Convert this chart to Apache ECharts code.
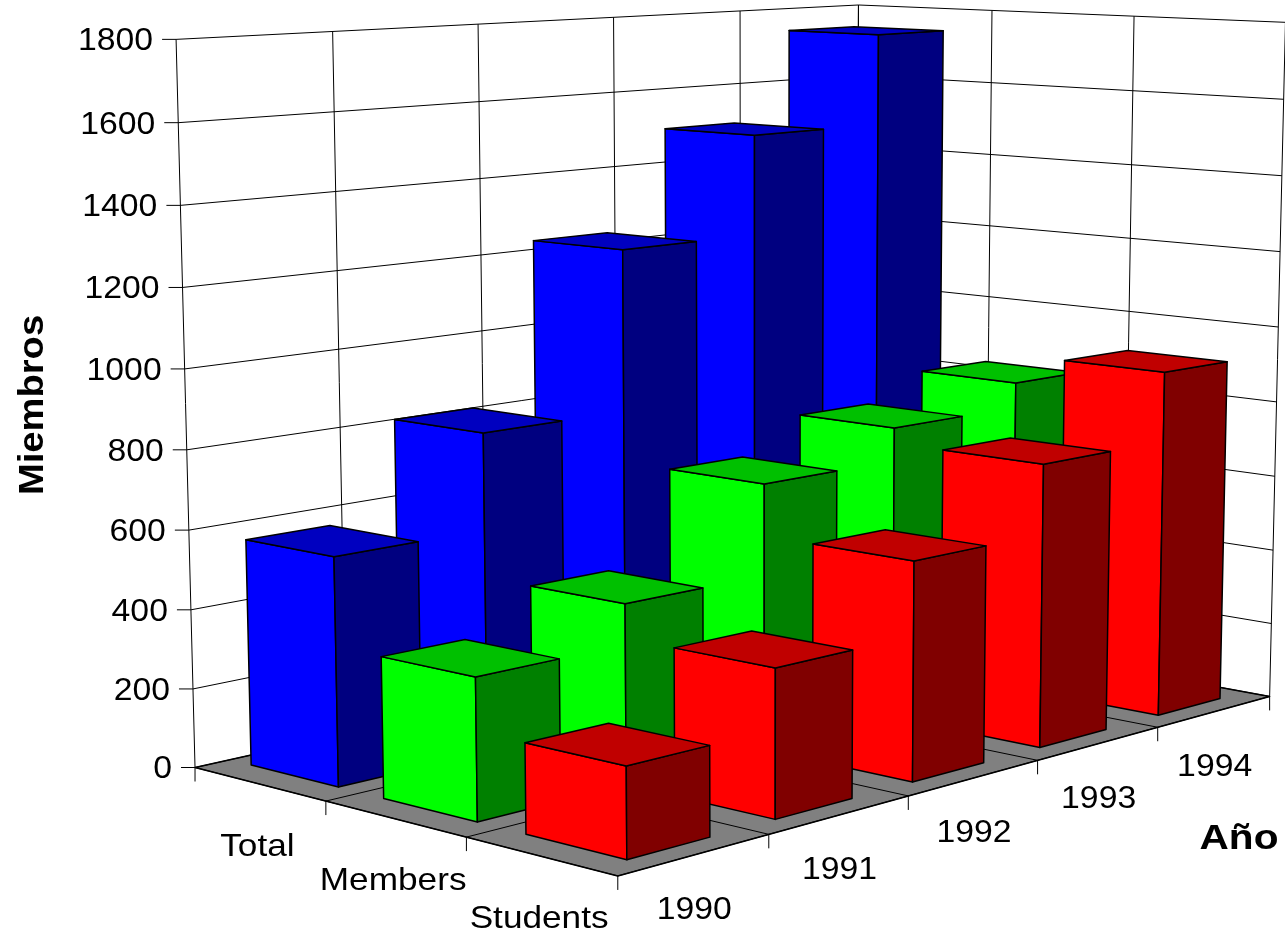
<!DOCTYPE html>
<html><head><meta charset="utf-8">
<style>html,body{margin:0;padding:0;background:#fff}#c{width:1285px;height:936px}</style>
<script src="https://cdn.jsdelivr.net/npm/echarts@6/dist/echarts.min.js"></script>
</head><body><div id="c"></div>
<script>
const years = ['1990','1991','1992','1993','1994'];
const categories = ['Total','Members','Students'];
const zTicks = [0,200,400,600,800,1000,1200,1400,1600,1800];
const totalValues = [571,816,1235,1500,1745];
const membersValues = [349,450,683,769,835];
const studentsValues = [218,365,551,729,911];
const seriesValues = [totalValues, membersValues, studentsValues];
const faceColors = [['#0000FF','#000080','#0000C0'],['#00FF00','#008000','#00C000'],['#FF0000','#800000','#C00000']];
// camera calibration [s, y, z, px, py]
const calib = [
[0,0,0,195,767.7],[1,0,0,326,801],[2,0,0,466.7,837.3],[3,0,0,618,876],
[3,1,0,768.3,834.3],[3,2,0,908,796],[3,3,0,1037.7,760],[3,4,0,1157,727.7],[3,5,0,1270,696],
[0,0,1800,176,39.3],[0,1,1800,332.7,31.7],[0,4,1800,740.4,11],[0,5,1800,858,4.7],
[1,5,1800,992,10.7],[2,5,1800,1134,16.7],[3,5,1800,1285,22.3],
[0,0,1600,178,122.5],[0,0,1400,180.5,205],[0,0,1200,182.7,287.5],[0,0,200,193,689],
[3,5,1600,1284,99],[3,5,1000,1279,327]];
const W=1285,H=936,YMAX=5,ZMAX=1800;
function solve(A,b){const n=b.length;for(let i=0;i<n;i++){let m=i;for(let r=i+1;r<n;r++)if(Math.abs(A[r][i])>Math.abs(A[m][i]))m=r;[A[i],A[m]]=[A[m],A[i]];[b[i],b[m]]=[b[m],b[i]];for(let r=i+1;r<n;r++){const f=A[r][i]/A[i][i];for(let c=i;c<n;c++)A[r][c]-=f*A[i][c];b[r]-=f*b[i];}}const x=new Array(n).fill(0);for(let i=n-1;i>=0;i--){let t=b[i];for(let c=i+1;c<n;c++)t-=A[i][c]*x[c];x[i]=t/A[i][i];}return x;}
const P=(function(){const rows=[],rhs=[];calib.forEach(([s,y,z,px,py])=>{const a=s/3,b=y/YMAX,c=z/ZMAX,X=px/1000,Y=py/1000;rows.push([a,b,c,1,0,0,0,0,-X*a,-X*b,-X*c]);rhs.push(X);rows.push([0,0,0,0,a,b,c,1,-Y*a,-Y*b,-Y*c]);rhs.push(Y);});const n=11,A=[],B=[];for(let i=0;i<n;i++){A.push(new Array(n).fill(0));B.push(0);}rows.forEach((r,k)=>{for(let i=0;i<n;i++){B[i]+=r[i]*rhs[k];for(let j=0;j<n;j++)A[i][j]+=r[i]*r[j];}});return solve(A,B);})();
function projN(a,b,c){const d=P[8]*a+P[9]*b+P[10]*c+1;return [1000*(P[0]*a+P[1]*b+P[2]*c+P[3])/d,1000*(P[4]*a+P[5]*b+P[6]*c+P[7])/d];}
function proj(api,s,y,z){const p=api.coord([y,z]);return projN(s/3,p[0]/W,(H-p[1])/H);}
const S0=1/6,S1=5/6,Y0=0.225,Y1=0.775;
const LBL='"Liberation Sans", Arial, sans-serif';
function ln(a,b,w,c){return {type:'line',shape:{x1:a[0],y1:a[1],x2:b[0],y2:b[1]},style:{stroke:c||'#000',lineWidth:w||1,fill:null}};}
function poly(pts,fill){return {type:'polygon',shape:{points:pts},style:{fill:fill,stroke:'#000',lineWidth:1.5,lineJoin:'round'}};}
function txt(t,x,y,size,sx,opt){return Object.assign({type:'text',x:x,y:y,scaleX:sx,style:{text:t,fill:'#000',font:(opt&&opt.bold?'bold ':'')+size+'px '+LBL,align:(opt&&opt.align)||'center',verticalAlign:'middle'}},opt&&opt.rotation?{rotation:opt.rotation}:{});}
function base(z,data,renderItem){return {type:'custom',coordinateSystem:'cartesian2d',z:z,silent:true,animation:false,clip:false,data:data,renderItem:renderItem};}
const series=[];
// walls, floor, grid lines
series.push(base(1,[[0,0]],function(p,api){const c=[];const f=(s,y,z)=>proj(api,s,y,z);
 c.push(poly([f(0,0,0),f(3,0,0),f(3,5,0),f(0,5,0)],'#808080'));
 zTicks.forEach(z=>{if(z>0){c.push(ln(f(0,0,z),f(0,5,z)));c.push(ln(f(0,5,z),f(3,5,z)));}});
 for(let y=0;y<=5;y++){c.push(ln(f(0,y,0),f(0,y,ZMAX)));c.push(ln(f(0,y,0),f(3,y,0)));}
 for(let s=0;s<=3;s++){if(s<3)c.push(ln(f(s,5,0),f(s,5,ZMAX)));c.push(ln(f(s,0,0),f(s,5,0)));}
 c.push(ln(f(3,5,0),f(3,5,ZMAX)));
 zTicks.forEach(z=>{const q=f(0,0,z);c.push(ln(q,[q[0]-14,q[1]]));});
 for(let s=0;s<=3;s++){const q=f(s,0,0);c.push(ln(q,[q[0],q[1]+14]));}
 for(let y=1;y<=5;y++){const q=f(3,y,0);c.push(ln(q,[q[0],q[1]+14]));}
 return {type:'group',children:c};}));
// bars
seriesValues.forEach((vals,si)=>{
 const data=vals.map((v,i)=>[i,v]).reverse();
 series.push(Object.assign(base(2+si,data,function(p,api){const yi=api.value(0),v=api.value(1);
  const s0=si+S0,s1=si+S1,y0=yi+Y0,y1=yi+Y1;const f=(s,y,z)=>proj(api,s,y,z);const col=faceColors[si];
  return {type:'group',children:[
   poly([f(s0,y0,0),f(s1,y0,0),f(s1,y0,v),f(s0,y0,v)],col[0]),
   poly([f(s1,y0,0),f(s1,y1,0),f(s1,y1,v),f(s1,y0,v)],col[1]),
   poly([f(s0,y0,v),f(s1,y0,v),f(s1,y1,v),f(s0,y1,v)],col[2])]};
 }),{name:categories[si]}));
});
// labels
series.push(base(10,zTicks.map((z,i)=>[i,z]),function(p,api){const q=proj(api,0,0,api.value(1));return txt(String(zTicks[p.dataIndex]),q[0]-23,q[1]+2,32,1.055,{align:'right'});}));
series.push(base(10,categories.map((c,i)=>[i,0]),function(p,api){const i=p.dataIndex,a=proj(api,i,0,0),b=proj(api,i+1,0,0);return txt(categories[i],(a[0]+b[0])/2-3,(a[1]+b[1])/2+62.5,32,1.1);}));
series.push(base(10,years.map((c,i)=>[i,0]),function(p,api){const i=p.dataIndex,a=proj(api,3,i,0),b=proj(api,3,i+1,0);return txt(years[i],(a[0]+b[0])/2+1,(a[1]+b[1])/2+55.5,32,1.055);}));
series.push(base(10,[[0,0]],function(p,api){return {type:'group',children:[txt('Miembros',33,405,35,1.09,{bold:true,rotation:Math.PI/2}),txt('Año',1239,839,35,1.16,{bold:true})]};}));
const chart=echarts.init(document.getElementById('c'),null,{renderer:'canvas',width:W,height:H});
chart.setOption({animation:false,backgroundColor:'#fff',
 grid:{left:0,right:0,top:0,bottom:0},
 xAxis:{type:'value',min:0,max:YMAX,show:false},
 yAxis:{type:'value',min:0,max:ZMAX,show:false},
 series:series});
</script></body></html>
